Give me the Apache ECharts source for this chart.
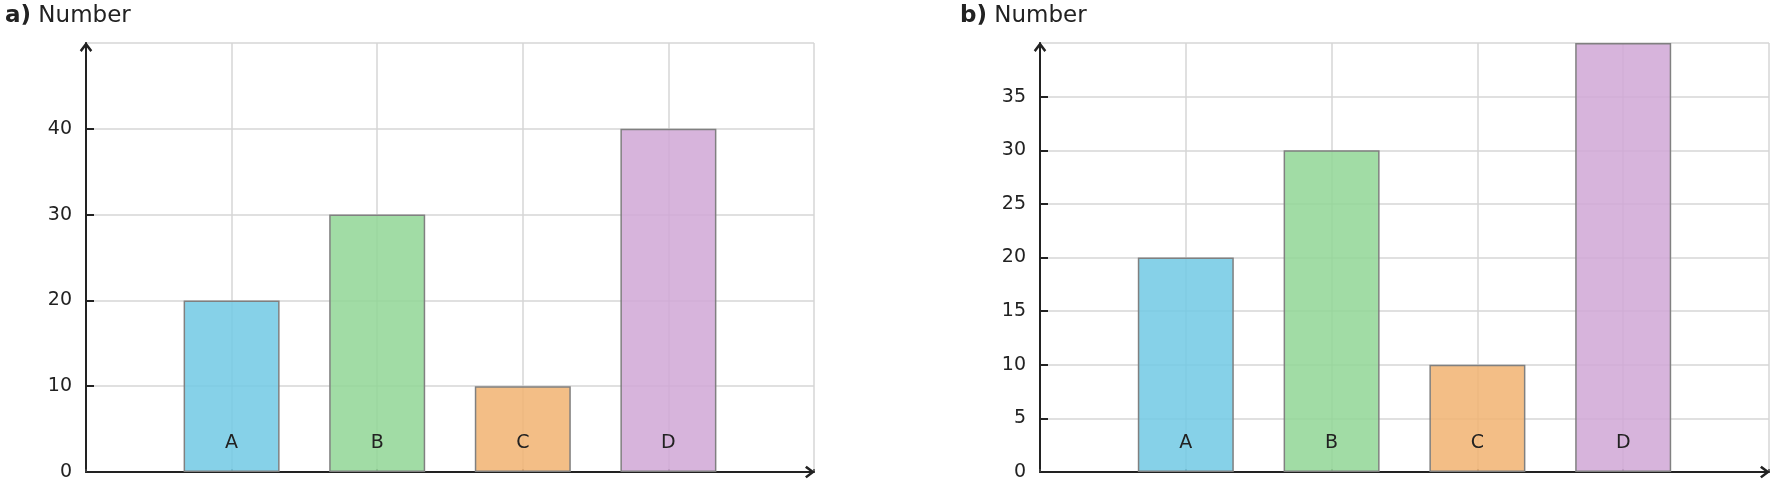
<!DOCTYPE html>
<html>
<head>
<meta charset="utf-8">
<script src="https://cdn.jsdelivr.net/npm/echarts@6/dist/echarts.min.js"></script>
<style>
  html, body { margin: 0; padding: 0; background: #fff; }
  #chart { width: 1773px; height: 486px; }
</style>
</head>
<body>
<div id="chart"></div>
<script>
var categories = ['A', 'B', 'C', 'D'];
var positions = [1, 2, 3, 4];
var valuesA = [20, 30, 10, 40];
var valuesB = [20, 30, 10, 40];
var barColors = ['rgba(114,201,228,0.86)', 'rgba(146,214,150,0.86)', 'rgba(241,179,114,0.86)', 'rgba(209,168,214,0.86)'];

var chart = echarts.init(document.getElementById('chart'));
var font = 'DejaVu Sans';
var arrow = 'path://M0,8 L6,0 L12,8 L10.2,9.6 L6,4 L1.8,9.6 Z';

function makeData(vals) {
    return vals.map(function (v, i) {
        return { value: [positions[i], v], name: categories[i], itemStyle: { color: barColors[i] } };
    });
}

function xAxisOpt(idx) {
    return {
        type: 'value', gridIndex: idx, min: 0, max: 5, interval: 1,
        axisLine: { show: true, symbol: ['none', arrow], symbolSize: [13, 10], symbolOffset: [0, -4],
            lineStyle: { color: '#222', width: 2 } },
        axisTick: { show: true, inside: true, length: 3, lineStyle: { color: '#444', width: 1.5 } },
        axisLabel: { show: false },
        splitLine: { show: true, lineStyle: { color: '#d6d6d6', width: 1.5 } }
    };
}

function yAxisOpt(idx, max, step) {
    return {
        type: 'value', gridIndex: idx, min: 0, max: max, interval: step,
        axisLine: { show: true, symbol: ['none', arrow], symbolSize: [13, 10], symbolOffset: [0, -4],
            lineStyle: { color: '#222', width: 2 } },
        axisTick: { show: true, inside: true, length: 8, lineStyle: { color: '#222', width: 2 } },
        axisLabel: { margin: 14, fontFamily: font, fontSize: 19, color: '#222', showMaxLabel: false },
        splitLine: { show: true, lineStyle: { color: '#d6d6d6', width: 1.5 } }
    };
}

function barSeries(idx, vals) {
    return {
        type: 'bar', xAxisIndex: idx, yAxisIndex: idx, barWidth: 96, data: makeData(vals),
        itemStyle: { borderColor: '#808080', borderWidth: 1.5 },
        label: { show: true, position: 'insideBottom', distance: 19, formatter: '{b}',
                 fontFamily: font, fontSize: 19, color: '#222' }
    };
}

var titleStyle = { fontFamily: font, fontSize: 23, fontWeight: 'normal', color: '#222',
                   rich: { b: { fontFamily: font, fontSize: 23, fontWeight: 'bold', color: '#222' } } };

var option = {
    animation: false,
    textStyle: { fontFamily: font },
    title: [
        { text: '{b|a)} Number', left: 0, top: 0, textStyle: titleStyle },
        { text: '{b|b)} Number', left: 955, top: 0, textStyle: titleStyle }
    ],
    grid: [
        { left: 86, top: 43, width: 728, height: 429 },
        { left: 1040, top: 43, width: 729, height: 429 }
    ],
    xAxis: [xAxisOpt(0), xAxisOpt(1)],
    yAxis: [yAxisOpt(0, 50, 10), yAxisOpt(1, 40, 5)],
    series: [barSeries(0, valuesA), barSeries(1, valuesB)]
};
chart.setOption(option);
</script>
</body>
</html>
